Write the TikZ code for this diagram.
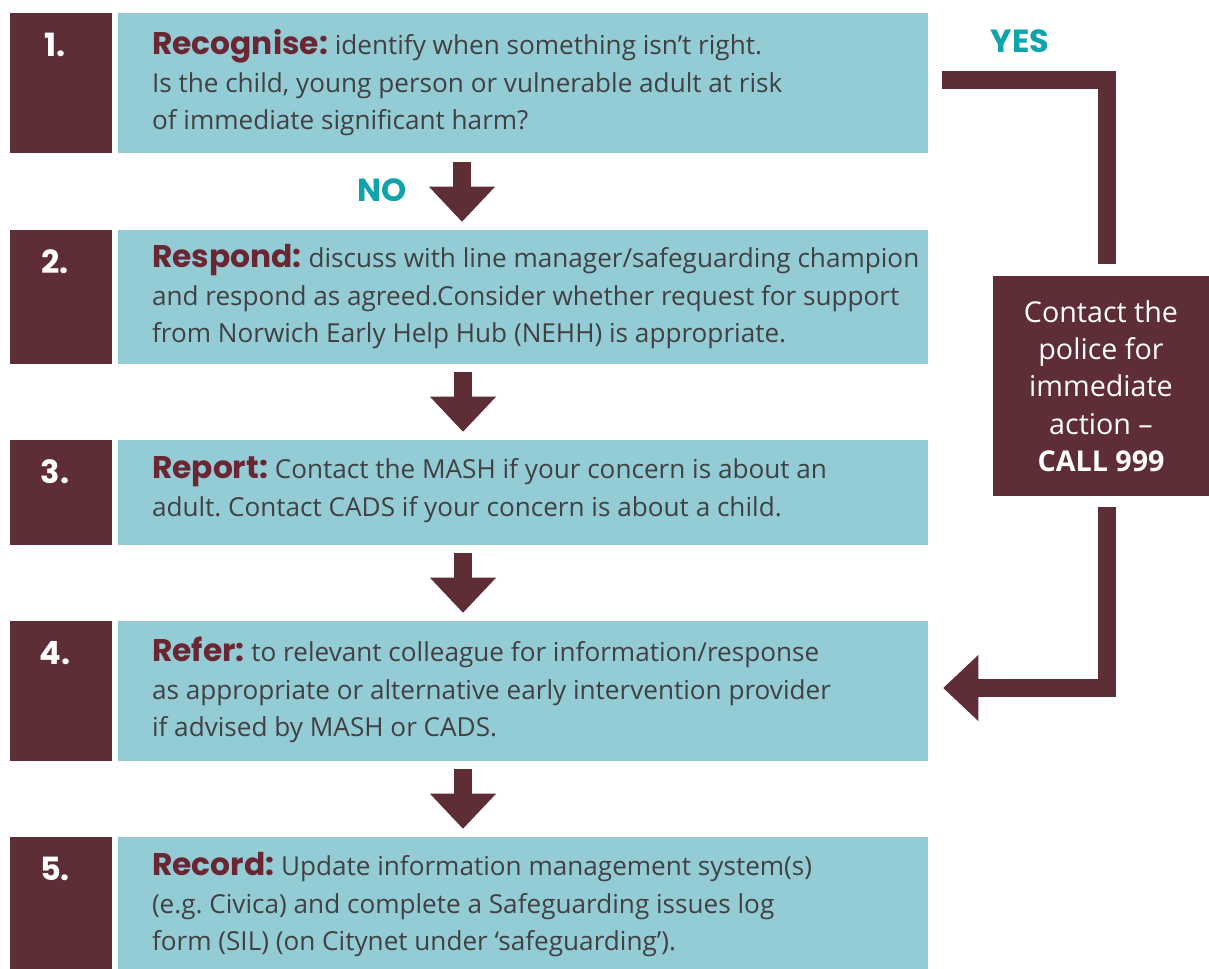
\documentclass[tikz,border=0pt]{standalone}
\usepackage{fontspec}
\setmainfont{Open Sans}
\newfontfamily\headfont{Poppins}
\usetikzlibrary{positioning, arrows.meta}

\definecolor{boxred}{HTML}{5E2D35}
\definecolor{headred}{HTML}{6B2634}
\definecolor{boxteal}{HTML}{93CCD4}
\definecolor{bodygray}{HTML}{414042}
\definecolor{ansteal}{HTML}{0FA3AB}

\newlength\pxu
\setlength\pxu{0.75pt}
\newcommand\stephead[1]{{\headfont\bfseries\fontsize{23.5}{28}\selectfont\color{headred}#1}}
\frenchspacing

\begin{document}
\begin{tikzpicture}[x=0.75pt, y=-0.75pt,
    numbox/.style={fill=boxred, minimum width=102\pxu, inner sep=0pt},
    stepbox/.style={fill=boxteal, minimum width=810\pxu, inner sep=0pt},
    numtext/.style={text=white, inner sep=0pt, font=\headfont\bfseries\fontsize{24}{24}\selectfont},
    steptext/.style={text=bodygray, align=left, inner sep=0pt, font=\fontsize{19.6}{28.1}\selectfont},
    answer/.style={text=ansteal, inner sep=0pt, font=\headfont\bfseries\fontsize{24}{24}\selectfont},
    policebox/.style={fill=boxred, text=white, align=center, minimum width=216\pxu, minimum height=220\pxu, inner sep=0pt, font=\fontsize{21.5}{28}\selectfont},
    blockarrow/.style={draw=boxred, line width=18\pxu, -{Triangle[width=49.5pt, length=26.25pt, line width=0pt]}},
    bar/.style={draw=boxred, line width=18\pxu}]
    \useasboundingbox (0,0) rectangle (1209,969);

    % 番号の箱
    \node[numbox, minimum height=140\pxu] (n1) at (61, 83) {};
    \node[numbox, minimum height=134\pxu] (n2) at (61, 297) {};
    \node[numbox, minimum height=105\pxu] (n3) at (61, 492.5) {};
    \node[numbox, minimum height=140\pxu] (n4) at (61, 691) {};
    \node[numbox, minimum height=132\pxu] (n5) at (61, 903) {};
    \node[numtext, below=20\pxu of n1.north, xshift=-6\pxu] (t1) {1.};
    \node[numtext, below=20\pxu of n2.north, xshift=-6\pxu] (t2) {2.};
    \node[numtext, below=20\pxu of n3.north, xshift=-6\pxu] (t3) {3.};
    \node[numtext, below=20\pxu of n4.north, xshift=-6\pxu] (t4) {4.};
    \node[numtext, below=20\pxu of n5.north, xshift=-6\pxu] (t5) {5.};

    % 手順の箱
    \node[stepbox, minimum height=140\pxu] (s1) at (523, 83) {};
    \node[stepbox, minimum height=134\pxu] (s2) at (523, 297) {};
    \node[stepbox, minimum height=105\pxu] (s3) at (523, 492.5) {};
    \node[stepbox, minimum height=140\pxu] (s4) at (523, 691) {};
    \node[stepbox, minimum height=132\pxu] (s5) at (523, 903) {};
    \node[steptext, right=34\pxu of s1.west] (d1) {\stephead{Recognise:} identify when something isn’t right.\\
        Is the child, young person or vulnerable adult at risk\\
        of immediate significant harm?};
    \node[steptext, right=34\pxu of s2.west] (d2) {\stephead{Respond:} discuss with line manager/safeguarding champion\\
        and respond as agreed.Consider whether request for support\\
        from Norwich Early Help Hub (NEHH) is appropriate.};
    \node[steptext, right=34\pxu of s3.west, yshift=3\pxu] (d3) {\stephead{Report:} Contact the MASH if your concern is about an\\
        adult. Contact CADS if your concern is about a child.};
    \node[steptext, right=34\pxu of s4.west, yshift=1\pxu] (d4) {\stephead{Refer:} to relevant colleague for information/response\\
        as appropriate or alternative early intervention provider\\
        if advised by MASH or CADS.};
    \node[steptext, right=34\pxu of s5.west, yshift=-2\pxu] (d5) {\stephead{Record:} Update information management system(s)\\
        (e.g. Civica) and complete a Safeguarding issues log\\
        form (SIL) (on Citynet under ‘safeguarding’).};

    % 警察の箱と答え
    \node[policebox] (police) at (1101, 386) {Contact the\\police for\\immediate\\action –\\\textbf{CALL 999}};
    \node[answer] (yes) at (1020, 41) {YES};
    \node[answer] (no) at (382, 190) {NO};

    % 矢印を描画
    \draw[blockarrow, shorten <=9\pxu, shorten >=8\pxu] ([xshift=-61\pxu]s1.south) -- ([xshift=-61\pxu]s2.north);
    \draw[blockarrow, shorten <=8\pxu, shorten >=8\pxu] ([xshift=-60\pxu]s2.south) -- ([xshift=-60\pxu]s3.north);
    \draw[blockarrow, shorten <=8\pxu, shorten >=8\pxu] ([xshift=-60\pxu]s3.south) -- ([xshift=-60\pxu]s4.north);
    \draw[blockarrow, shorten <=8\pxu, shorten >=8\pxu] ([xshift=-60\pxu]s4.south) -- ([xshift=-60\pxu]s5.north);
    \draw[bar, shorten <=14\pxu, shorten >=12\pxu] ([yshift=2.5\pxu]s1.east) -| ([xshift=5.5\pxu]police.north);
    \draw[blockarrow, shorten <=11\pxu, shorten >=15\pxu] ([xshift=5.5\pxu]police.south) |- ([yshift=3\pxu]s4.east);
\end{tikzpicture}
\end{document}
